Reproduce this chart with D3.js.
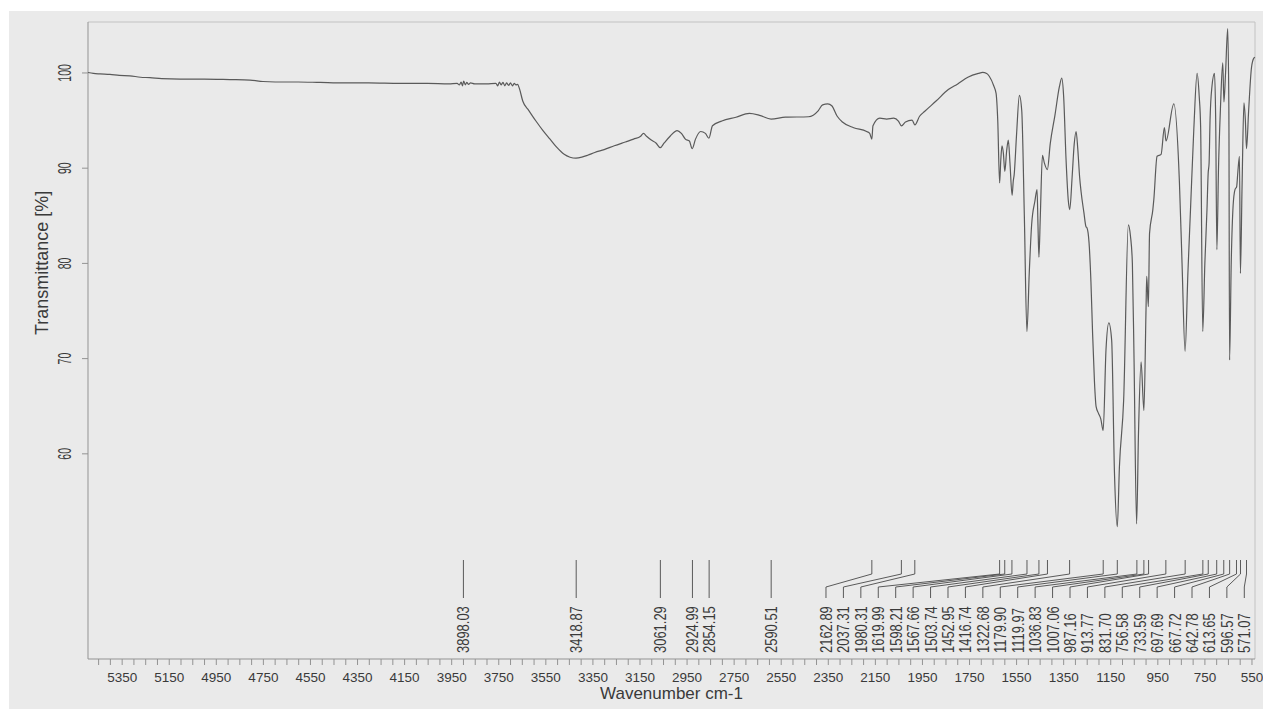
<!DOCTYPE html>
<html>
<head>
<meta charset="utf-8">
<script src="https://cdn.jsdelivr.net/npm/d3@7"></script>
<style>
  html, body { margin: 0; padding: 0; background: #ffffff; }
  svg { display: block; }
  text { font-family: "Liberation Sans", Arial, sans-serif; fill: #3a3a3a; }
</style>
</head>
<body>
<svg id="chart" width="1263" height="709"></svg>
<script>
// FT-IR spectrum, wavenumber in cm-1 (descending) and transmittance in %
const wavenumber = [
  5493, 5470, 5442, 5400, 5360, 5315, 5270, 5230, 5180, 5102, 5000, 4890, 4805, 4750, 4698, 4600,
  4507, 4400, 4300, 4167, 4050, 3960, 3925, 3915, 3908, 3902, 3897, 3890, 3884, 3876, 3868, 3850,
  3800, 3760, 3752, 3745, 3738, 3730, 3722, 3715, 3706, 3698, 3690, 3682, 3675, 3668, 3660, 3646,
  3620, 3590, 3560, 3530, 3500, 3470, 3445, 3420, 3395, 3370, 3340, 3300, 3257, 3210, 3175, 3145,
  3133, 3120, 3100, 3080, 3062, 3045, 3020, 2990, 2972, 2955, 2938, 2926, 2912, 2890, 2870, 2855,
  2840, 2800, 2740, 2683, 2640, 2591, 2530, 2432, 2390, 2372, 2350, 2333, 2310, 2288, 2240, 2185,
  2172, 2163, 2158, 2129, 2100, 2070, 2050, 2037, 2020, 1992, 1980, 1960, 1939, 1890, 1838, 1798,
  1755, 1710, 1692, 1675, 1664, 1645, 1635, 1628, 1620, 1615, 1610, 1604, 1598, 1590, 1583, 1576,
  1567, 1562, 1558, 1548, 1536, 1526, 1515, 1504, 1494, 1484, 1470, 1461, 1457, 1453, 1447, 1438,
  1430, 1417, 1405, 1385, 1366, 1356, 1348, 1338, 1328, 1322, 1312, 1303, 1295, 1288, 1280, 1274,
  1262, 1253, 1249, 1240, 1232, 1225, 1217, 1210, 1200, 1190, 1180, 1168, 1156, 1144, 1132, 1120,
  1111, 1093, 1073, 1064, 1056, 1049, 1038, 1030, 1019, 1007, 998, 995, 988, 983, 969, 965,
  951, 934, 920, 913, 880, 856, 845, 832, 820, 809, 795, 781, 772, 766, 757, 748,
  739, 734, 730, 726, 718, 707, 702, 697, 690, 682, 672, 667, 660, 651, 646, 643,
  636, 628, 620, 613, 608, 601, 597, 590, 582, 576, 571, 562, 550, 540, 535
];
const transmittance = [
  100.0, 99.9, 99.85, 99.8, 99.7, 99.65, 99.5, 99.45, 99.35, 99.3, 99.3, 99.25, 99.2, 99.05, 99.0, 99.0,
  98.95, 98.9, 98.9, 98.85, 98.85, 98.8, 98.85, 98.7, 99.0, 98.6, 99.1, 98.7, 98.95, 98.75, 98.9, 98.8,
  98.8, 98.85, 98.6, 99.0, 98.7, 98.95, 98.6, 98.9, 98.65, 98.9, 98.6, 98.85, 98.7, 98.75, 98.3, 97.0,
  96.0, 94.9, 93.9, 93.0, 92.1, 91.4, 91.1, 91.0, 91.1, 91.3, 91.6, 91.9, 92.3, 92.7, 93.0, 93.3,
  93.6, 93.3, 92.9, 92.6, 92.1, 92.6, 93.3, 93.9, 93.6, 93.0, 92.8, 92.0, 93.0, 93.8, 93.6, 93.1,
  94.4, 94.9, 95.3, 95.7, 95.5, 95.1, 95.3, 95.35, 96.0, 96.6, 96.7, 96.5, 95.4, 94.8, 94.2, 93.8,
  93.6, 93.0, 94.4, 95.2, 95.1, 95.2, 94.9, 94.4, 94.8, 95.0, 94.5, 95.4, 95.9, 97.0, 98.2, 98.8,
  99.5, 99.9, 100.0, 99.9, 99.6, 98.6, 97.8, 95.0, 88.4, 90.8, 92.3, 91.5, 89.6, 91.8, 92.9, 90.5,
  87.1, 88.6, 89.3, 93.5, 97.6, 96.0, 85.0, 72.8, 79.0, 84.0, 86.5, 87.7, 84.0, 80.6, 85.0, 91.3,
  90.5, 89.8, 92.5, 95.5, 98.5, 99.4, 97.5, 91.0, 86.5, 85.6, 89.0, 92.5, 93.8, 92.0, 89.0, 87.5,
  85.3, 83.8, 83.7, 82.1, 78.0, 72.6, 67.5, 64.9, 64.2, 63.6, 62.4, 70.9, 73.7, 71.9, 57.9, 52.3,
  58.6, 65.6, 84.0, 82.8, 80.0, 70.0, 52.6, 62.1, 69.6, 64.5, 75.1, 78.6, 75.4, 83.1, 85.6, 86.6,
  91.2, 91.4, 94.2, 92.8, 96.7, 88.4, 80.0, 70.7, 79.0, 85.6, 94.0, 99.9, 97.5, 94.3, 72.8, 80.0,
  85.6, 89.4, 90.5, 95.0, 98.5, 99.9, 95.0, 81.4, 90.0, 96.1, 101.0, 96.9, 100.0, 104.6, 96.1, 69.8,
  80.0, 86.0, 87.7, 88.0, 89.5, 91.2, 78.9, 88.0, 96.8, 95.0, 92.0, 96.0, 100.5, 101.5, 101.6
];

// Picked peak positions (cm-1)
const peakWavenumbers = [
  3898.03, 3418.87, 3061.29, 2924.99, 2854.15, 2590.51, 2162.89, 2037.31, 1980.31, 1619.99,
  1598.21, 1567.66, 1503.74, 1452.95, 1416.74, 1322.68, 1179.90, 1119.97, 1036.83, 1007.06,
  987.16, 913.77, 831.70, 756.58, 733.59, 697.69, 667.72, 642.78, 613.65, 596.57, 571.07
];

// Axis ticks
const yTickValues = [60, 70, 80, 90, 100];
const xMinorTicks = d3.range(5450, 549, -50);
const xLabelStart = 5350;
const xLabelStep = 200;

const svg = d3.select("#chart");
const W = 1263, H = 709;
const plot = { left: 88, right: 1255, top: 22, bottom: 659 };

// page background
svg.append("rect").attr("x", 0).attr("y", 0).attr("width", W).attr("height", H).attr("fill", "#ffffff");
svg.append("rect").attr("x", 9).attr("y", 11).attr("width", W - 9).attr("height", H - 11).attr("fill", "#eaeaea");

const x = d3.scaleLinear().domain([5493, 535]).range([plot.left, plot.right]);
const y = d3.scaleLinear().domain([38.4, 105.3]).range([plot.bottom, plot.top]);

// frame
svg.append("line").attr("x1", plot.left).attr("x2", plot.right).attr("y1", plot.top).attr("y2", plot.top)
  .attr("stroke", "#c2c2c2").attr("stroke-width", 1);
svg.append("line").attr("x1", plot.right).attr("x2", plot.right).attr("y1", plot.top).attr("y2", plot.bottom)
  .attr("stroke", "#c2c2c2").attr("stroke-width", 1);
svg.append("line").attr("x1", plot.left).attr("x2", plot.left).attr("y1", plot.top).attr("y2", plot.bottom)
  .attr("stroke", "#939393").attr("stroke-width", 1);
svg.append("line").attr("x1", plot.left).attr("x2", plot.right).attr("y1", plot.bottom).attr("y2", plot.bottom)
  .attr("stroke", "#939393").attr("stroke-width", 1);

// y axis
const yAxis = svg.append("g").attr("transform", `translate(${plot.left},0)`)
  .call(d3.axisLeft(y).tickValues(yTickValues).tickSize(6).tickFormat(d3.format("d")));
yAxis.select(".domain").remove();
yAxis.selectAll(".tick line").attr("stroke", "#939393");
yAxis.selectAll(".tick text")
  .attr("x", null).attr("dy", null)
  .attr("text-anchor", "middle")
  .attr("transform", "translate(-17,0) rotate(-90) scale(0.55,1)")
  .style("font-size", "19px")
  .attr("fill", "#3a3a3a");

// y title
svg.append("text")
  .attr("transform", `translate(48,${(y(60) + y(100)) / 2}) rotate(-90)`)
  .attr("text-anchor", "middle")
  .style("font-size", "18px")
  .text("Transmittance [%]");

// x axis
const xAxis = svg.append("g").attr("transform", `translate(0,${plot.bottom})`)
  .call(d3.axisBottom(x).tickValues(xMinorTicks).tickSize(6)
    .tickFormat(d => ((xLabelStart - d) % xLabelStep === 0 && d <= xLabelStart) ? d : ""));
xAxis.select(".domain").remove();
xAxis.selectAll(".tick line").attr("stroke", "#939393");
xAxis.selectAll(".tick text")
  .attr("y", 23).attr("dy", null)
  .style("font-size", "13.5px")
  .attr("fill", "#3a3a3a");

svg.append("text")
  .attr("x", (plot.left + plot.right) / 2)
  .attr("y", 699)
  .attr("text-anchor", "middle")
  .style("font-size", "17px")
  .text("Wavenumber cm-1");

// spectrum
const pts = wavenumber.map((w, i) => [w, transmittance[i]]);
const line = d3.line().x(d => x(d[0])).y(d => y(d[1])).curve(d3.curveMonotoneX);
svg.append("path").datum(pts)
  .attr("d", line)
  .attr("fill", "none")
  .attr("stroke", "#5a5a5a")
  .attr("stroke-width", 1.2)
  .attr("stroke-linejoin", "round");

// peak labels: spread from the right edge so neighbours keep a minimum pitch
const labelPitch = 17.43;
const labelRightLimit = plot.right - 10.7;
const peaks = peakWavenumbers.slice().sort((a, b) => b - a).map(w => ({ w, px: x(w) }));
for (let i = peaks.length - 1; i >= 0; i--) {
  const limit = i === peaks.length - 1 ? labelRightLimit : peaks[i + 1].lx - labelPitch;
  peaks[i].lx = Math.min(peaks[i].px, limit);
}

const yTickTop = 560, yBend1 = 574, yBend2 = 587, yTickBottom = 598, yTextStart = 653;
const lab = svg.append("g");
peaks.forEach(p => {
  const straight = Math.abs(p.px - p.lx) < 1.5;
  const pathD = straight
    ? `M${p.px},${yTickTop}V${yTickBottom}`
    : `M${p.px},${yTickTop}V${yBend1}L${p.lx},${yBend2}V${yTickBottom}`;
  lab.append("path").attr("d", pathD)
    .attr("fill", "none").attr("stroke", "#4a4a4a").attr("stroke-width", 0.9);
  const tx = straight ? p.px : p.lx;
  lab.append("text")
    .attr("transform", `translate(${tx + 6},${yTextStart}) rotate(-90) scale(0.785,1)`)
    .attr("text-anchor", "start")
    .style("font-size", "16.5px")
    .text(p.w.toFixed(2));
});
</script>
</body>
</html>
